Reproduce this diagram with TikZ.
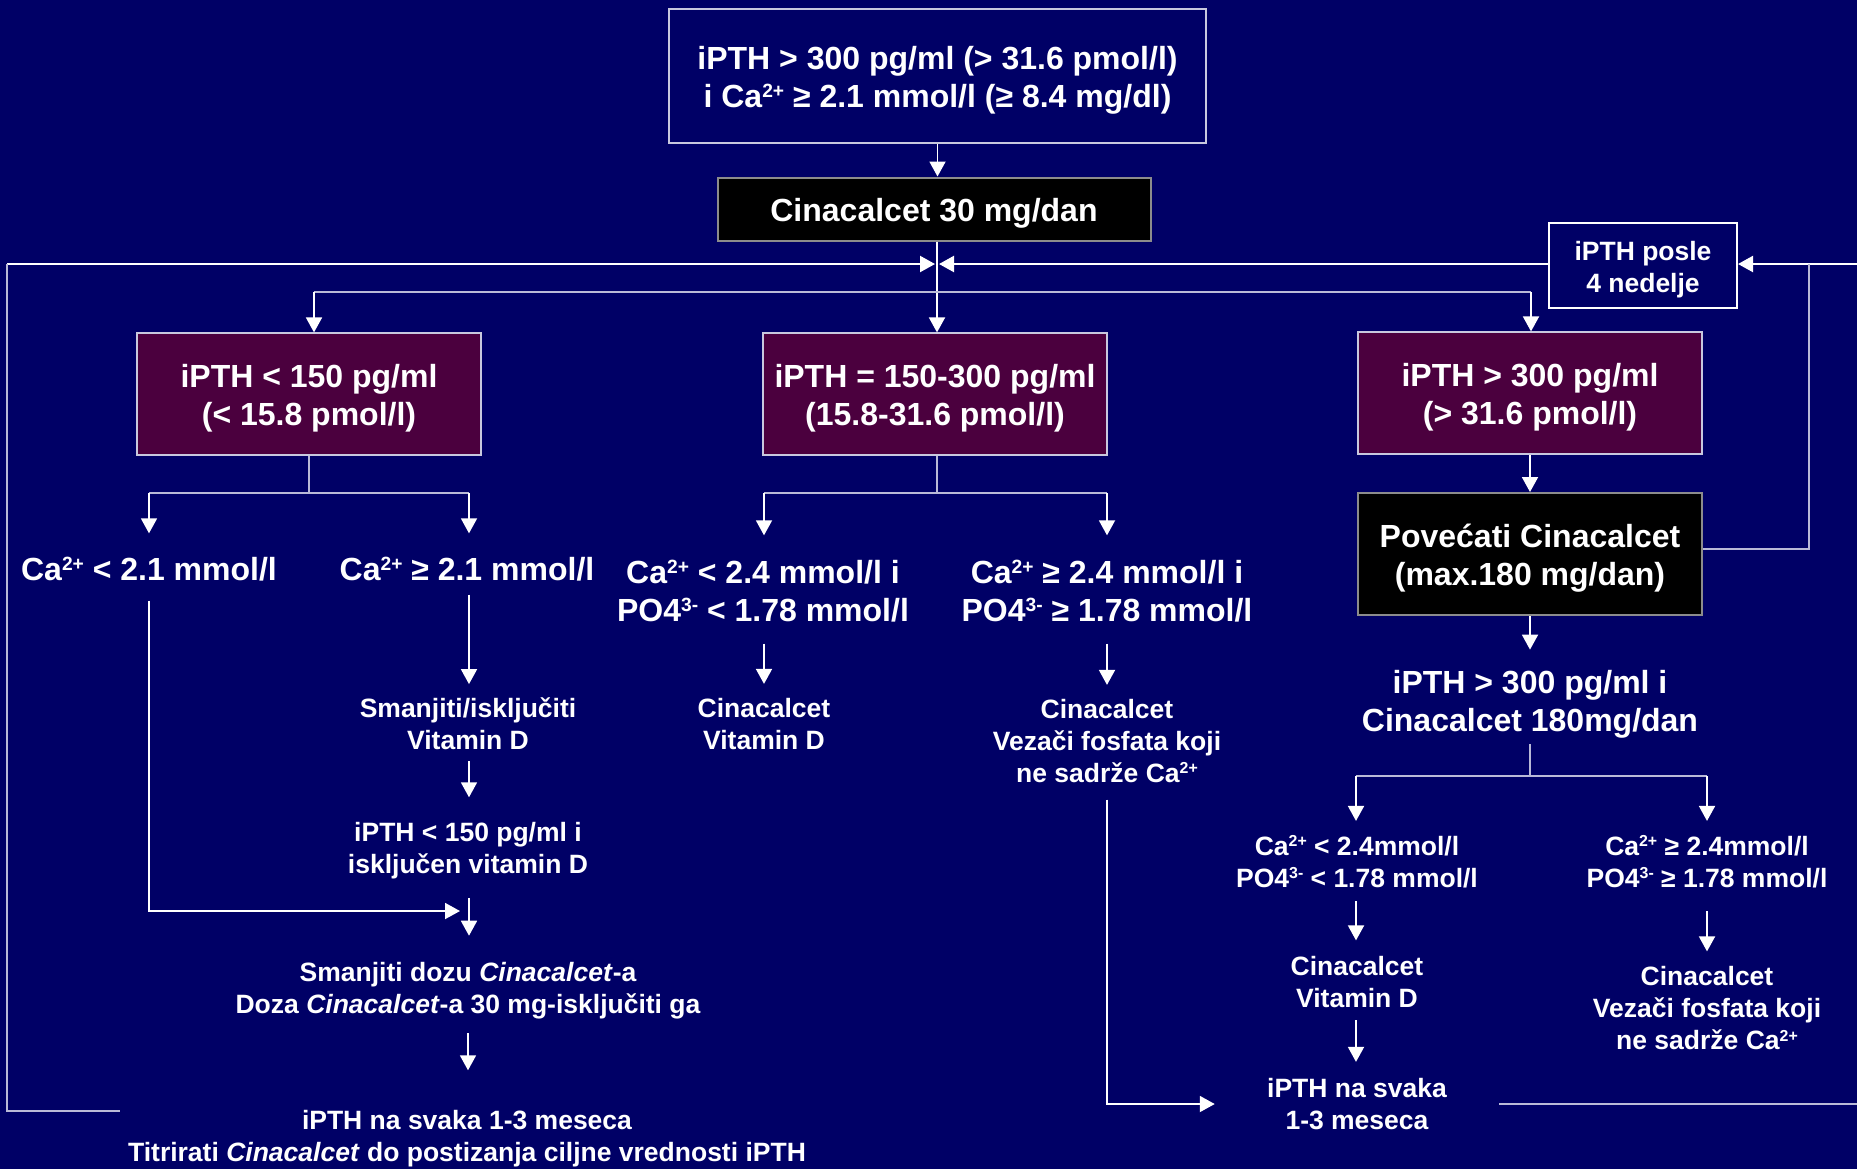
\documentclass[tikz,border=0pt]{standalone}
\usepackage{fontspec}
\setmainfont{Liberation Sans}
\usetikzlibrary{arrows.meta}

\definecolor{bg}{RGB}{0,0,102}
\definecolor{plum}{RGB}{75,0,62}
\definecolor{frame}{RGB}{200,200,222}
\definecolor{wirec}{RGB}{185,185,215}
\definecolor{steel}{RGB}{140,140,140}

\newcommand{\bigtxt}{\fontsize{16pt}{19pt}\selectfont\bfseries}
\newcommand{\smtxt}{\fontsize{13.25pt}{16pt}\selectfont\bfseries}
\makeatletter
% small raised index, as in Ca2+ and PO4 3-
\newcommand{\sups}[1]{\raisebox{0.33em}{\fontsize{\the\dimexpr 0.6\dimexpr\f@size pt\relax\relax}{0pt}\selectfont #1}}
\makeatother
% extra head room on the first line of a boxed label
\newcommand{\tstrut}{\rule{0pt}{1em}}

\begin{document}
\begin{tikzpicture}[x=0.5pt,y=-0.5pt,
  every node/.style={text=white, inner sep=0pt, align=center},
  big/.style={font=\bigtxt},
  small/.style={font=\smtxt},
  navybox/.style={draw=frame, line width=0.8pt, fill=bg},
  blackbox/.style={draw=steel, line width=1pt, fill=black},
  plumbox/.style={draw=frame, line width=0.6pt, fill=plum,
    minimum width=172pt, minimum height=61pt},
  arr/.style={draw=white, line width=0.9pt, -{Triangle[length=7.5pt,width=8pt]}},
  fbarr/.style={draw=white, line width=1.1pt, -{Triangle[length=7.5pt,width=8pt]}},
  wire/.style={draw=wirec, line width=0.6pt}
]
% page
\fill[bg] (0,0) rectangle (1857,1169);
\useasboundingbox (0,0) rectangle (1857,1169);

% boxes
\node[navybox, big, minimum width=268.5pt, minimum height=67pt] (top) at (937.5,76)
  {\tstrut iPTH > 300 pg/ml (> 31.6 pmol/l)\\i Ca\sups{2+} ≥ 2.1 mmol/l (≥ 8.4 mg/dl)};
\node[blackbox, big, minimum width=216.5pt, minimum height=31.5pt] (cin) at (934,209)
  {\tstrut Cinacalcet 30 mg/dan};
\node[navybox, small, draw=white, line width=1pt, minimum width=94pt, minimum height=42.5pt] (posle) at (1643,265.5)
  {\tstrut iPTH posle\\4 nedelje};
\node[plumbox, big] (lbox) at (309,394) {\tstrut iPTH < 150 pg/ml\\(< 15.8 pmol/l)};
\node[plumbox, big] (mbox) at (935,394) {\tstrut iPTH = 150-300 pg/ml\\(15.8-31.6 pmol/l)};
\node[plumbox, big] (rbox) at (1530,393) {\tstrut iPTH > 300 pg/ml\\(> 31.6 pmol/l)};
\node[blackbox, big, minimum width=172pt, minimum height=61pt] (pov) at (1530,554)
  {\tstrut Povećati Cinacalcet\\(max.180 mg/dan)};

% left branch texts
\node[big] (ca1) at (149,569) {Ca\sups{2+} < 2.1 mmol/l};
\node[big] (ca2) at (467,569) {Ca\sups{2+} ≥ 2.1 mmol/l};
\node[small] (smv) at (468,723.5) {Smanjiti/isključiti\\Vitamin D};
\node[small] (ipl) at (468,851) {iPTH < 150 pg/ml i\\isključen vitamin D};
\node[small] (smd) at (468,990.5)
  {Smanjiti dozu \textit{Cinacalcet}-a\\Doza \textit{Cinacalcet}-a 30 mg-isključiti ga};
\node[small] (ipn) at (467,1138.5)
  {iPTH na svaka 1-3 meseca\\Titrirati \textit{Cinacalcet} do postizanja ciljne vrednosti iPTH};

% middle branch texts
\node[big] (mc1) at (763,591) {Ca\sups{2+} < 2.4 mmol/l i\\PO4\sups{3-} < 1.78 mmol/l};
\node[big] (mc2) at (1107,591) {Ca\sups{2+} ≥ 2.4 mmol/l i\\PO4\sups{3-} ≥ 1.78 mmol/l};
\node[small] (mcv) at (764,724) {Cinacalcet\\Vitamin D};
\node[small] (mcz) at (1107,741) {Cinacalcet\\Vezači fosfata koji\\ne sadrže Ca\sups{2+}};

% right branch texts
\node[big] (ipr) at (1530,704) {iPTH > 300 pg/ml i\\Cinacalcet 180mg/dan};
\node[small] (rc1) at (1357,861.5) {Ca\sups{2+} < 2.4mmol/l\\PO4\sups{3-} < 1.78 mmol/l};
\node[small] (rc2) at (1707,861.5) {Ca\sups{2+} ≥ 2.4mmol/l\\PO4\sups{3-} ≥ 1.78 mmol/l};
\node[small] (rcv) at (1357,982.5) {Cinacalcet\\Vitamin D};
\node[small] (rcz) at (1707,1008.5) {Cinacalcet\\Vezači fosfata koji\\ne sadrže Ca\sups{2+}};
\node[small] (rip) at (1357,1104) {iPTH na svaka\\1-3 meseca};

% junction points
\coordinate (hub)  at (937,292);
\coordinate (hubL) at (314,292);
\coordinate (hubR) at (1531,292);
\coordinate (fbL)  at (7,264);
\coordinate (loopB) at (7,1111);
\coordinate (loopE) at (120,1111);
\coordinate (edgeR) at (1857,264);
\coordinate (rloop) at (1809,264);
\coordinate (rloopB) at (1809,549);
\coordinate (lL) at (149,493);
\coordinate (lR) at (469,493);
\coordinate (mL) at (764,493);
\coordinate (mR) at (1107,493);
\coordinate (rL) at (1356,776);
\coordinate (rR) at (1707,776);
\coordinate (ltip) at (460,911);

% top of the chart
\draw[arr] (top.south) -- (top.south |- cin.north);
\draw[arr] (hub |- cin.south) -- (hub |- mbox.north);
\draw[wire] (hubL) -- (hubR);
\draw[arr] (hubL) -- (hubL |- lbox.north);
\draw[arr] (hubR) -- (hubR |- rbox.north);

% feedback after 4 weeks
\draw[fbarr, shorten >=1pt] (fbL) -- (hub |- fbL);
\draw[fbarr, shorten >=1pt] (posle.west |- fbL) -- (hub |- fbL);
\draw[wire] (fbL) -- (loopB) -- (loopE);
\draw[fbarr] (edgeR) -- (posle.east |- edgeR);
\draw[wire] (rloop) -- (rloopB) -- (pov.east |- rloopB);
\draw[wire, shorten <=26pt] (rip.east) -- (rip.east -| edgeR);

% left branch
\draw[wire] (lbox.south) -- (lbox.south |- lL);
\draw[wire] (lL) -- (lR);
\draw[arr, shorten >=11.5pt] (lL) -- (lL |- ca1.north);
\draw[arr, shorten >=11.5pt] (lR) -- (lR |- ca2.north);
\draw[arr, shorten <=6.5pt, shorten >=6.5pt] (lR |- ca2.south) -- (lR |- smv.north);
\draw[arr, shorten <=5.75pt, shorten >=12.5pt] (lR |- smv.south) -- (lR |- ipl.north);
\draw[arr, shorten <=9pt, shorten >=13pt] (lR |- ipl.south) -- (lR |- smd.north);
\draw[arr, shorten <=9.5pt] (ca1.south) -- (ca1.south |- ltip) -- (ltip);
\draw[arr, shorten <=7pt, shorten >=19.75pt] (smd.south) -- (smd.south |- ipn.north);

% middle branch
\draw[wire] (mbox.south -| hub) -- (hub |- mL);
\draw[wire] (mL) -- (mR);
\draw[arr, shorten >=12pt] (mL) -- (mL |- mc1.north);
\draw[arr, shorten >=12pt] (mR) -- (mR |- mc2.north);
\draw[arr, shorten <=10.5pt, shorten >=7pt] (mL |- mc1.south) -- (mL |- mcv.north);
\draw[arr, shorten <=10.5pt, shorten >=7pt] (mR |- mc2.south) -- (mR |- mcz.north);
\draw[arr, shorten <=8.25pt, shorten >=26pt] (mcz.south) |- (rip.west);

% right branch
\draw[arr] (rbox.south) -- (rbox.south |- pov.north);
\draw[arr, shorten >=10pt] (pov.south) -- (pov.south |- ipr.north);
\draw[wire, shorten <=3pt] (ipr.south) -- (ipr.south |- rL);
\draw[wire] (rL) -- (rR);
\draw[arr, shorten >=7pt] (rL) -- (rL |- rc1.north);
\draw[arr, shorten >=7pt] (rR) -- (rR |- rc2.north);
\draw[arr, shorten <=6.5pt, shorten >=8pt] (rL |- rc1.south) -- (rL |- rcv.north);
\draw[arr, shorten <=11.5pt, shorten >=7.5pt] (rR |- rc2.south) -- (rR |- rcz.north);
\draw[arr, shorten <=5.75pt, shorten >=8pt] (rL |- rcv.south) -- (rL |- rip.north);
\end{tikzpicture}
\end{document}
